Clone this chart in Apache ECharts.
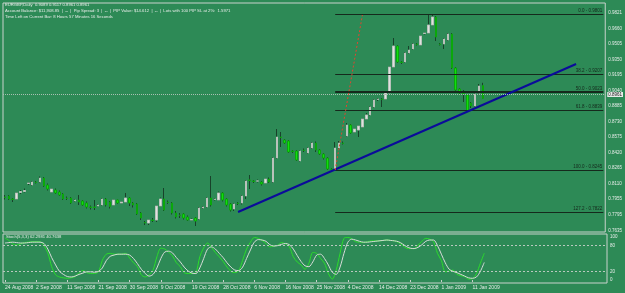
<!DOCTYPE html>
<html>
<head>
<meta charset="utf-8">
<script src="https://cdn.jsdelivr.net/npm/echarts@6.0.0/dist/echarts.min.js"></script>
<style>
  html, body { margin: 0; padding: 0; background: #2d8a56; }
  #chart { width: 625px; height: 293px; }
</style>
</head>
<body>
<div id="chart"></div>
<script>
// EURGBP daily, 24 Aug 2008 .. 14 Jan 2009
const dateLabels = ['24 Aug 2008', '2 Sep 2008', '11 Sep 2008', '21 Sep 2008', '30 Sep 2008', '9 Oct 2008',
  '19 Oct 2008', '28 Oct 2008', '6 Nov 2008', '16 Nov 2008', '25 Nov 2008', '4 Dec 2008', '14 Dec 2008',
  '23 Dec 2008', '1 Jan 2009', '11 Jan 2009']
const barsPerLabel = 8
const barSlots = 155

const priceTicks = [0.9821, 0.9660, 0.9505, 0.9350, 0.9195, 0.9040, 0.8885, 0.8730, 0.8575, 0.8420,
  0.8265, 0.8110, 0.7955, 0.7795, 0.7635]
const stochTicks = [0, 20, 80, 100]
const stochLevels = [20, 80]

// [open, close, low, high]
const candles = [
  [0.7975, 0.7970, 0.7950, 0.7995], [0.7985, 0.7955, 0.7945, 0.7995], [0.7955, 0.7950, 0.7925, 0.7965],
  [0.7955, 0.8015, 0.7945, 0.8025], [0.8020, 0.8030, 0.8005, 0.8045], [0.8030, 0.8040, 0.8020, 0.8060],
  [0.8110, 0.8115, 0.8095, 0.8125], [0.8095, 0.8125, 0.8085, 0.8135], [0.8125, 0.8120, 0.8110, 0.8135],
  [0.8125, 0.8165, 0.8115, 0.8180], [0.8165, 0.8085, 0.8075, 0.8175], [0.8095, 0.8055, 0.8040, 0.8110],
  [0.8025, 0.8055, 0.8015, 0.8065], [0.8045, 0.8015, 0.8005, 0.8060], [0.8025, 0.7995, 0.7985, 0.8040],
  [0.8005, 0.7955, 0.7945, 0.8015], [0.7965, 0.7960, 0.7945, 0.7980], [0.7965, 0.7915, 0.7905, 0.7975],
  [0.7935, 0.7945, 0.7925, 0.7955], [0.7945, 0.7925, 0.7895, 0.7995], [0.7935, 0.7895, 0.7885, 0.7945],
  [0.7915, 0.7875, 0.7860, 0.7930], [0.7875, 0.7870, 0.7850, 0.7890], [0.7875, 0.7870, 0.7845, 0.7945],
  [0.7885, 0.7895, 0.7880, 0.7905], [0.7895, 0.7955, 0.7885, 0.7965], [0.7955, 0.7895, 0.7880, 0.7965],
  [0.7925, 0.7880, 0.7860, 0.7935], [0.7895, 0.7945, 0.7885, 0.7955], [0.7945, 0.7915, 0.7905, 0.7950],
  [0.7915, 0.7925, 0.7905, 0.7935], [0.7925, 0.7965, 0.7915, 0.8015], [0.7965, 0.7915, 0.7885, 0.7975],
  [0.7915, 0.7895, 0.7870, 0.7925], [0.7905, 0.7805, 0.7795, 0.7915], [0.7815, 0.7765, 0.7745, 0.7825],
  [0.7720, 0.7715, 0.7695, 0.7735], [0.7715, 0.7745, 0.7695, 0.7755], [0.7745, 0.7740, 0.7725, 0.7765],
  [0.7745, 0.7885, 0.7725, 0.7895], [0.7885, 0.7955, 0.7875, 0.7970], [0.7955, 0.7845, 0.7835, 0.8065],
  [0.7925, 0.7920, 0.7905, 0.7940], [0.7915, 0.7815, 0.7800, 0.7925], [0.7815, 0.7775, 0.7760, 0.7835],
  [0.7795, 0.7790, 0.7765, 0.7815], [0.7805, 0.7765, 0.7750, 0.7815], [0.7775, 0.7745, 0.7735, 0.7790],
  [0.7745, 0.7750, 0.7735, 0.7760], [0.7765, 0.7735, 0.7685, 0.7775], [0.7755, 0.7865, 0.7745, 0.7875],
  [0.7865, 0.7875, 0.7855, 0.7885], [0.7875, 0.7965, 0.7865, 0.7975], [0.7965, 0.7895, 0.7880, 0.8185],
  [0.7950, 0.7955, 0.7940, 0.7965], [0.7945, 0.8015, 0.7935, 0.8030], [0.8015, 0.7945, 0.7930, 0.8025],
  [0.7955, 0.7895, 0.7880, 0.7965], [0.7905, 0.7845, 0.7830, 0.7915], [0.7855, 0.7905, 0.7835, 0.7915],
  [0.7915, 0.7910, 0.7895, 0.7925], [0.7915, 0.7985, 0.7900, 0.7995], [0.7985, 0.8135, 0.7955, 0.8145],
  [0.8145, 0.8140, 0.8055, 0.8195], [0.8135, 0.8130, 0.8115, 0.8145], [0.8135, 0.8135, 0.8120, 0.8150],
  [0.8125, 0.8105, 0.8090, 0.8135], [0.8115, 0.8155, 0.8105, 0.8165], [0.8155, 0.8125, 0.8115, 0.8170],
  [0.8125, 0.8365, 0.8115, 0.8375], [0.8365, 0.8575, 0.8355, 0.8655], [0.8575, 0.8570, 0.8475, 0.8625],
  [0.8545, 0.8515, 0.8505, 0.8555], [0.8535, 0.8425, 0.8415, 0.8545], [0.8435, 0.8430, 0.8415, 0.8445],
  [0.8435, 0.8345, 0.8335, 0.8445], [0.8335, 0.8435, 0.8325, 0.8445], [0.8445, 0.8440, 0.8425, 0.8460],
  [0.8415, 0.8465, 0.8405, 0.8475], [0.8465, 0.8515, 0.8455, 0.8525], [0.8515, 0.8445, 0.8425, 0.8530],
  [0.8445, 0.8405, 0.8395, 0.8455], [0.8405, 0.8365, 0.8350, 0.8415], [0.8365, 0.8255, 0.8245, 0.8375],
  [0.8255, 0.8250, 0.8245, 0.8265], [0.8250, 0.8465, 0.8245, 0.8525], [0.8465, 0.8515, 0.8455, 0.8535],
  [0.8515, 0.8510, 0.8500, 0.8530], [0.8585, 0.8695, 0.8575, 0.8715], [0.8695, 0.8615, 0.8605, 0.8705],
  [0.8625, 0.8655, 0.8615, 0.8665], [0.8645, 0.8685, 0.8575, 0.8695], [0.8675, 0.8755, 0.8665, 0.8765],
  [0.8755, 0.8795, 0.8745, 0.8815], [0.8795, 0.8875, 0.8785, 0.8885], [0.8875, 0.8945, 0.8865, 0.8955],
  [0.8950, 0.8955, 0.8935, 0.8965], [0.8955, 0.8950, 0.8875, 0.8965], [0.8955, 0.9015, 0.8945, 0.9035],
  [0.9015, 0.9275, 0.9005, 0.9285], [0.9275, 0.9485, 0.9265, 0.9565], [0.9485, 0.9325, 0.9315, 0.9495],
  [0.9325, 0.9320, 0.9305, 0.9335], [0.9325, 0.9415, 0.9315, 0.9425], [0.9415, 0.9445, 0.9405, 0.9485],
  [0.9455, 0.9505, 0.9445, 0.9515], [0.9505, 0.9500, 0.9490, 0.9515], [0.9495, 0.9585, 0.9485, 0.9595],
  [0.9610, 0.9615, 0.9600, 0.9625], [0.9615, 0.9695, 0.9605, 0.9801], [0.9695, 0.9775, 0.9685, 0.9801],
  [0.9775, 0.9575, 0.9535, 0.9785], [0.9505, 0.9500, 0.9490, 0.9515], [0.9505, 0.9555, 0.9455, 0.9565],
  [0.9545, 0.9605, 0.9535, 0.9615], [0.9605, 0.9265, 0.9255, 0.9615], [0.9265, 0.9045, 0.9035, 0.9275],
  [0.9055, 0.9015, 0.9005, 0.9065], [0.9015, 0.9010, 0.8925, 0.9045], [0.8995, 0.8835, 0.8825, 0.9005],
  [0.8915, 0.8885, 0.8865, 0.8925], [0.8885, 0.9005, 0.8875, 0.9015], [0.9015, 0.9085, 0.9005, 0.9105],
  [0.9089, 0.8961, 0.8961, 0.9117]
]

// Stoch(5,3,3): main (green) and signal (silver)
const stochMain = [98, 92, 84, 81, 84, 87, 88, 89, 89, 89, 80, 63, 31, 12, 7, 5, 4, 5, 8, 17,
  22, 17, 15, 15, 19, 46, 60, 62, 60, 60, 60, 62, 51, 40, 31, 12, 7, 12, 23, 54,
  74, 72, 65, 56, 40, 31, 17, 15, 15, 17, 54, 75, 86, 76, 64, 54, 43, 30, 20, 17,
  22, 46, 72, 88, 99, 97, 92, 85, 77, 79, 81, 87, 84, 77, 54, 42, 35, 25, 39, 64,
  62, 50, 39, 15, 2, 23, 62, 97, 99, 96, 89, 88, 87, 89, 91, 91, 91, 92, 93, 92,
  91, 87, 81, 74, 73, 73, 81, 90, 97, 95, 89, 62, 45, 19, 21, 23, 13, 10, 8, 2,
  3, 15, 39, 62.3]
const stochSignal = [86, 87, 88, 87, 86, 86, 87, 88, 88, 88, 85, 72, 52, 35, 20, 13, 8, 7, 9, 13,
  16, 19, 19, 18, 20, 28, 45, 55, 58, 60, 60, 60, 58, 50, 38, 25, 15, 9, 13, 28,
  50, 65, 67, 63, 52, 42, 30, 21, 16, 15, 28, 50, 72, 77, 72, 62, 52, 40, 30, 23,
  22, 30, 50, 70, 88, 94, 93, 90, 82, 79, 80, 83, 85, 82, 72, 57, 43, 33, 31, 42,
  58, 60, 50, 35, 18, 13, 30, 62, 88, 95, 93, 90, 88, 88, 89, 90, 91, 92, 93, 92,
  91, 89, 84, 78, 74, 73, 76, 82, 90, 93, 93, 80, 60, 40, 25, 20, 17, 13, 9, 5,
  4, 7, 20, 40.8]

// fibonacci retracement drawn from the Nov low to the Dec high
const fibLevels = [
  { name: '0.0', value: 0.9801 },
  { name: '38.2', value: 0.9207 },
  { name: '50.0', value: 0.9023 },
  { name: '61.8', value: 0.8839 },
  { name: '100.0', value: 0.8245 },
  { name: '127.2', value: 0.7822 }
]
const fibFrom = 85
const fibTo = 154
const trendLine = [[60, 0.7825], [147, 0.9305]]
const projectionLine = [[85, 0.8245], [92, 0.9795]]
const lastPrice = 0.8961

const headerLines = [
  'EURGBP,Daily  0.9089 0.9117 0.8961 0.8961',
  'Account Balance: $11,908.85  |  --  |  Pip Spread: 3  |  --  |  PIP Value: $14.612  |  --  |  Lots with 100 PIP SL at 2%:  1.5971',
  'Time Left on Current Bar: 8 Hours 57 Minutes 16 Seconds'
]
const stochTitle = 'Stoch(5,3,3) 62.2981 40.7638'

const slots = Array.from({ length: barSlots }, (_, i) => i)
const showDate = i => i % barsPerLabel === 0 && i / barsPerLabel < dateLabels.length
const bodies = candles.map(d => [d[0], d[1], Math.min(d[0], d[1]), Math.max(d[0], d[1])])

const frameColor = '#c9d2cc'
const lightText = '#e6ece8'
const fibColor = '#15291c'

const fibMarks = fibLevels.map(level => [
  {
    coord: [fibFrom, level.value],
    lineStyle: { color: fibColor, width: level.name === '50.0' ? 2 : 1, type: 'solid' },
    label: {
      show: true,
      position: 'insideEndTop',
      formatter: level.name + ' - ' + level.value.toFixed(4),
      color: fibColor,
      fontSize: 4.5,
      distance: 1
    }
  },
  { coord: [fibTo, level.value] }
])

const chart = echarts.init(document.getElementById('chart'))

chart.setOption({
  backgroundColor: '#2d8a56',
  animation: false,
  textStyle: { fontFamily: 'Liberation Sans' },
  grid: [
    { left: 3, right: 18, top: 3, height: 229, show: true, borderColor: frameColor, borderWidth: 1 },
    { left: 3, right: 18, top: 234, height: 49, show: true, borderColor: frameColor, borderWidth: 1 }
  ],
  xAxis: [
    { type: 'category', gridIndex: 0, data: slots, show: false },
    {
      type: 'category',
      gridIndex: 1,
      data: slots,
      axisLine: { show: false },
      axisTick: {
        show: true,
        alignWithLabel: true,
        interval: showDate,
        length: 2,
        lineStyle: { color: frameColor }
      },
      axisLabel: {
        interval: showDate,
        formatter: (value, index) => dateLabels[index / barsPerLabel] || '',
        align: 'left',
        margin: 2,
        color: lightText,
        fontSize: 5
      }
    }
  ],
  yAxis: [
    {
      type: 'value',
      gridIndex: 0,
      position: 'right',
      min: 0.7625,
      max: 0.9915,
      splitLine: { show: false },
      axisLine: { show: false },
      axisTick: { show: false },
      axisLabel: {
        customValues: priceTicks,
        formatter: v => v.toFixed(4),
        margin: 3,
        color: lightText,
        fontSize: 4.5
      }
    },
    {
      type: 'value',
      gridIndex: 1,
      position: 'right',
      min: -7,
      max: 107,
      splitLine: { show: false },
      axisLine: { show: false },
      axisTick: { show: false },
      axisLabel: {
        customValues: stochTicks,
        margin: 3,
        color: lightText,
        fontSize: 4.5
      }
    }
  ],
  graphic: headerLines.map((line, i) => ({
    type: 'text',
    left: 5,
    top: 3 + i * 5.8,
    silent: true,
    style: { text: line, fill: lightText, font: '4.2px "Liberation Sans"' }
  })).concat([{
    type: 'text',
    left: 6,
    top: 235,
    silent: true,
    style: { text: stochTitle, fill: lightText, font: '4.2px "Liberation Sans"' }
  }]),
  series: [
    {
      name: 'wicks',
      type: 'candlestick',
      xAxisIndex: 0,
      yAxisIndex: 0,
      data: candles,
      barWidth: 1,
      itemStyle: {
        color: '#133020',
        color0: '#133020',
        borderColor: '#133020',
        borderColor0: '#133020',
        borderWidth: 0.8
      }
    },
    {
      name: 'EURGBP',
      type: 'candlestick',
      xAxisIndex: 0,
      yAxisIndex: 0,
      data: bodies,
      barWidth: 2,
      itemStyle: {
        color: '#dfe3df',
        color0: '#10e010',
        borderColor: '#b9c2bb',
        borderColor0: '#0aa80a',
        borderWidth: 1
      },
      markLine: {
        silent: true,
        symbol: ['none', 'none'],
        label: { show: false },
        data: fibMarks.concat([
          [
            { coord: trendLine[0], lineStyle: { color: '#0b0b9a', width: 2, type: 'solid' } },
            { coord: trendLine[1] }
          ],
          [
            { coord: projectionLine[0], lineStyle: { color: '#e2452f', width: 1, type: [2, 2] } },
            { coord: projectionLine[1] }
          ],
          {
            yAxis: lastPrice,
            lineStyle: { color: '#a9bfb1', width: 1, type: [1, 1] },
            label: {
              show: true,
              position: 'end',
              distance: 2,
              formatter: lastPrice.toFixed(4),
              color: '#1a1a1a',
              backgroundColor: '#e8ece9',
              padding: [0, 1],
              fontSize: 4.5
            }
          }
        ])
      }
    },
    {
      name: '%K',
      type: 'line',
      xAxisIndex: 1,
      yAxisIndex: 1,
      data: stochMain,
      showSymbol: false,
      smooth: 0.3,
      lineStyle: { color: '#2bdc2b', width: 1 },
      markLine: {
        silent: true,
        symbol: ['none', 'none'],
        label: { show: false },
        lineStyle: { color: '#b9c9bf', width: 1, type: [2, 2] },
        data: stochLevels.map(v => ({ yAxis: v }))
      }
    },
    {
      name: '%D',
      type: 'line',
      xAxisIndex: 1,
      yAxisIndex: 1,
      data: stochSignal,
      showSymbol: false,
      smooth: 0.3,
      lineStyle: { color: '#d6dcd8', width: 1 }
    }
  ]
})
</script>
</body>
</html>
